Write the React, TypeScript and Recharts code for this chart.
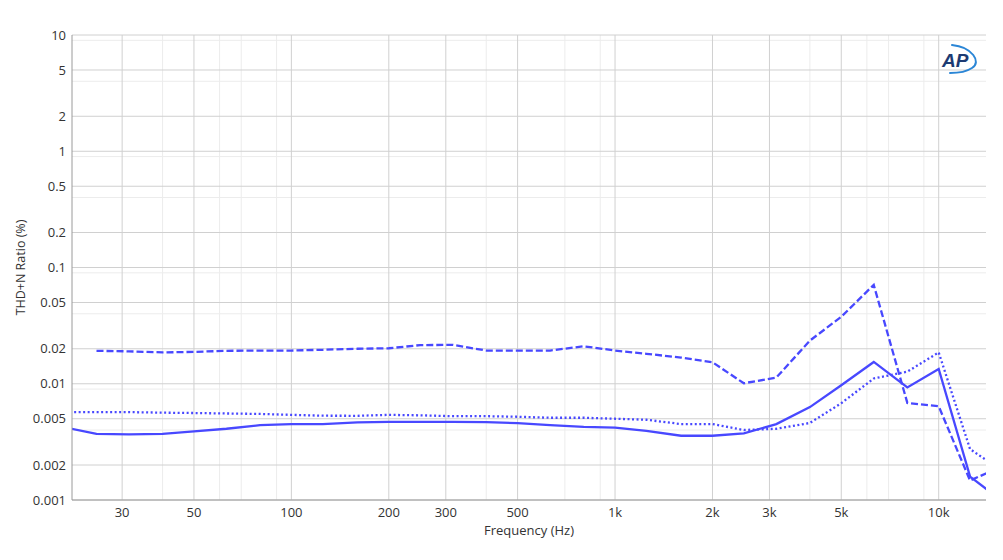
import React from 'react';
import { LineChart, Line, XAxis, YAxis, CartesianGrid } from 'recharts';

const freqs = [20, 25, 31.5, 40, 50, 63, 80, 100, 125, 160, 200, 250, 315, 400, 500, 630, 800, 1000, 1250, 1600, 2000, 2500, 3150, 4000, 5000, 6300, 8000, 10000, 12500, 16000];
const solidSeries = [0.0042, 0.0037, 0.00367, 0.0037, 0.0039, 0.0041, 0.0044, 0.0045, 0.0045, 0.00466, 0.0047, 0.0047, 0.0047, 0.00467, 0.00458, 0.0044, 0.00425, 0.0042, 0.00394, 0.00357, 0.00357, 0.00374, 0.0045, 0.0063, 0.0097, 0.0154, 0.0093, 0.0134, 0.00159, 0.00094];
const dashedSeries = [null, 0.0192, 0.019, 0.0186, 0.0188, 0.0192, 0.0193, 0.0193, 0.0196, 0.02, 0.0202, 0.0215, 0.0216, 0.0193, 0.0193, 0.0193, 0.021, 0.0193, 0.0181, 0.0168, 0.0153, 0.0101, 0.0113, 0.0235, 0.0377, 0.0709, 0.00684, 0.0064, 0.00147, 0.002];
const dottedSeries = [0.0057, 0.0057, 0.0057, 0.00564, 0.0056, 0.00555, 0.0055, 0.0054, 0.00531, 0.0053, 0.0054, 0.00535, 0.00526, 0.00526, 0.0052, 0.0051, 0.0051, 0.005, 0.0049, 0.0045, 0.0045, 0.004, 0.0041, 0.0046, 0.0068, 0.0111, 0.0127, 0.0186, 0.00274, 0.00172];

const xTicks = [30, 50, 100, 200, 300, 500, 1000, 2000, 3000, 5000, 10000];
const xMinor = [40, 60, 70, 80, 90, 400, 600, 700, 800, 900, 4000, 6000, 7000, 8000, 9000];
const yTicks = [0.001, 0.002, 0.005, 0.01, 0.02, 0.05, 0.1, 0.2, 0.5, 1, 2, 5, 10];
const yMinor = [0.003, 0.004, 0.006, 0.007, 0.008, 0.009, 0.03, 0.04, 0.06, 0.07, 0.08, 0.09, 0.3, 0.4, 0.6, 0.7, 0.8, 0.9, 3, 4, 6, 7, 8, 9];

const xLabel = 'Frequency (Hz)';
const yLabel = 'THD+N Ratio (%)';

const LINE = '#4848ff';
const FONT = '"Open Sans", "Noto Sans", sans-serif';

const fmtX = (v: number) => (v >= 1000 ? `${v / 1000}k` : `${v}`);
const fmtY = (v: number) => `${v}`;

export default function App() {
  const data = freqs.map((f, i) => ({ f, solid: solidSeries[i], dashed: dashedSeries[i], dotted: dottedSeries[i] }));
  return (
    <div style={{ position: 'absolute', left: 0, top: 0, width: 1003, height: 560, background: '#fff', fontFamily: FONT }}>
      <LineChart width={1003} height={560} data={data} margin={{ top: 35, right: 17, bottom: 0, left: 0 }}>
        <CartesianGrid verticalValues={xMinor} horizontalValues={yMinor} stroke="#ececec" strokeWidth={1} />
        <CartesianGrid verticalValues={xTicks} horizontalValues={yTicks} stroke="#d0d0d0" strokeWidth={1} />
        <XAxis
          dataKey="f"
          type="number"
          scale="log"
          domain={[21, 14000]}
          allowDataOverflow
          ticks={xTicks}
          tickFormatter={fmtX}
          tickLine={false}
          height={60}
          stroke="#9a9a9a"
          tick={{ fill: '#333', fontSize: 13, fontFamily: FONT }}
          label={{
            content: (p: any) => {
              const vb = p.viewBox || { x: 72, width: 914 };
              return (
                <text x={vb.x + vb.width / 2} y={535} textAnchor="middle" fill="#333" fontSize={13} fontFamily={FONT}>
                  {xLabel}
                </text>
              );
            },
          }}
        />
        <XAxis xAxisId="top" orientation="top" dataKey="f" type="number" scale="log" domain={[21, 14000]} allowDataOverflow height={0} tick={false} tickLine={false} stroke="#9a9a9a" />
        <YAxis
          type="number"
          scale="log"
          domain={[0.001, 10]}
          allowDataOverflow
          ticks={yTicks}
          tickFormatter={fmtY}
          tickLine={false}
          tickMargin={0}
          width={72}
          stroke="#9a9a9a"
          tick={{ fill: '#333', fontSize: 13, fontFamily: FONT }}
          label={{
            content: (p: any) => {
              const vb = p.viewBox || { y: 35, height: 465 };
              const cy = vb.y + vb.height / 2;
              return (
                <text x={20} y={cy} transform={`rotate(-90, 20, ${cy})`} textAnchor="middle" dominantBaseline="central" fill="#333" fontSize={12.5} fontFamily={FONT}>
                  {yLabel}
                </text>
              );
            },
          }}
        />
        <YAxis yAxisId="right" orientation="right" type="number" scale="log" domain={[0.001, 10]} allowDataOverflow width={0} tick={false} tickLine={false} stroke="#9a9a9a" />
        <Line type="linear" dataKey="dotted" stroke={LINE} strokeWidth={2.3} strokeDasharray="2 2.5" dot={false} isAnimationActive={false} />
        <Line type="linear" dataKey="dashed" stroke={LINE} strokeWidth={2.3} strokeDasharray="7 3" dot={false} isAnimationActive={false} />
        <Line type="linear" dataKey="solid" stroke={LINE} strokeWidth={2.3} dot={false} isAnimationActive={false} />
      </LineChart>
      <svg width={1003} height={560} style={{ position: 'absolute', left: 0, top: 0, pointerEvents: 'none' }}>
        <path d="M 952 45 C 972 47 982 62 972 68 C 966 72 958 73 950 73" fill="none" stroke="#2b86d6" strokeWidth={2} strokeLinecap="round" />
        <text x={942} y={67} fontSize={19} fontStyle="italic" fontWeight="bold" fill="#1d3b73" fontFamily='"Liberation Sans", Arial, sans-serif'>AP</text>
      </svg>
    </div>
  );
}
